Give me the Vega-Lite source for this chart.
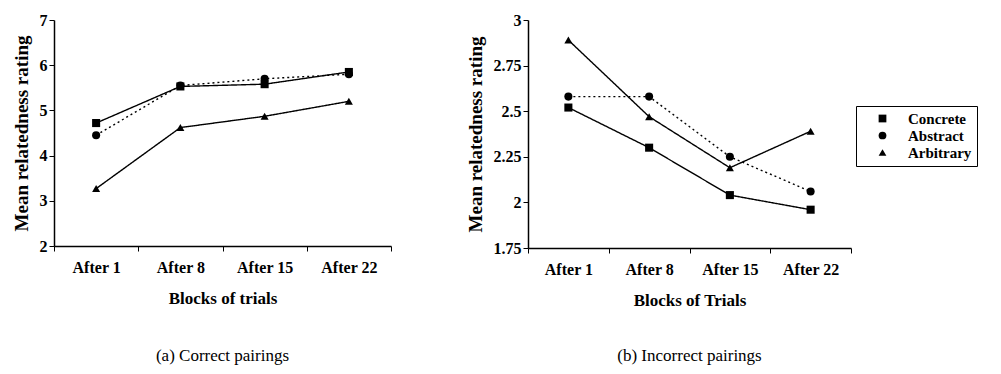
{
  "$schema": "https://vega.github.io/schema/vega-lite/v6.json",
  "background": "white",
  "padding": {"left": 12, "top": 12, "right": 5, "bottom": 5},
  "spacing": 74,
  "datasets": {
    "pts": [
      {"panel": "a", "block": "After 1", "series": "Concrete", "value": 4.72},
      {"panel": "a", "block": "After 8", "series": "Concrete", "value": 5.53},
      {"panel": "a", "block": "After 15", "series": "Concrete", "value": 5.58},
      {"panel": "a", "block": "After 22", "series": "Concrete", "value": 5.85},
      {"panel": "a", "block": "After 1", "series": "Abstract", "value": 4.45},
      {"panel": "a", "block": "After 8", "series": "Abstract", "value": 5.55},
      {"panel": "a", "block": "After 15", "series": "Abstract", "value": 5.70},
      {"panel": "a", "block": "After 22", "series": "Abstract", "value": 5.80},
      {"panel": "a", "block": "After 1", "series": "Arbitrary", "value": 3.27},
      {"panel": "a", "block": "After 8", "series": "Arbitrary", "value": 4.62},
      {"panel": "a", "block": "After 15", "series": "Arbitrary", "value": 4.87},
      {"panel": "a", "block": "After 22", "series": "Arbitrary", "value": 5.20},
      {"panel": "b", "block": "After 1", "series": "Concrete", "value": 2.52},
      {"panel": "b", "block": "After 8", "series": "Concrete", "value": 2.30},
      {"panel": "b", "block": "After 15", "series": "Concrete", "value": 2.04},
      {"panel": "b", "block": "After 22", "series": "Concrete", "value": 1.96},
      {"panel": "b", "block": "After 1", "series": "Abstract", "value": 2.58},
      {"panel": "b", "block": "After 8", "series": "Abstract", "value": 2.58},
      {"panel": "b", "block": "After 15", "series": "Abstract", "value": 2.25},
      {"panel": "b", "block": "After 22", "series": "Abstract", "value": 2.06},
      {"panel": "b", "block": "After 1", "series": "Arbitrary", "value": 2.89},
      {"panel": "b", "block": "After 8", "series": "Arbitrary", "value": 2.47},
      {"panel": "b", "block": "After 15", "series": "Arbitrary", "value": 2.19},
      {"panel": "b", "block": "After 22", "series": "Arbitrary", "value": 2.39}
    ]
  },
  "data": {"name": "pts"},
  "hconcat": [
    {
      "width": 337, "height": 226,
      "view": {"stroke": null},
      "title": {"text": "(a) Correct pairings", "orient": "bottom", "offset": 42, "font": "Liberation Serif, Times New Roman, serif", "fontWeight": "normal", "fontSize": 17, "color": "black"},
      "transform": [{"filter": "datum.panel === 'a'"}],
      "encoding": {
        "x": {"field": "block", "type": "nominal", "sort": ["After 1", "After 8", "After 15", "After 22"],
              "scale": {"paddingInner": 0, "paddingOuter": 0},
              "axis": {"title": "Blocks of trials", "labelAngle": 0, "tickBand": "extent", "labelPadding": 8, "titlePadding": 15, "tickSize": 5, "grid": false,
                       "labelFont": "Liberation Serif, Times New Roman, serif", "labelFontWeight": "bold", "labelFontSize": 16, "labelColor": "black",
                       "titleFont": "Liberation Serif, Times New Roman, serif", "titleFontWeight": "bold", "titleFontSize": 17, "titleColor": "black",
                       "domainColor": "black", "tickColor": "black", "domainWidth": 1.5}},
        "y": {"field": "value", "type": "quantitative", "scale": {"domain": [2, 7], "nice": false},
              "axis": {"title": "Mean relatedness rating", "values": [2, 3, 4, 5, 6, 7], "tickSize": 5, "titlePadding": 8, "grid": false,
                       "labelFont": "Liberation Serif, Times New Roman, serif", "labelFontWeight": "bold", "labelFontSize": 16, "labelColor": "black",
                       "titleFont": "Liberation Serif, Times New Roman, serif", "titleFontWeight": "bold", "titleFontSize": 19, "titleColor": "black",
                       "domainColor": "black", "tickColor": "black", "domainWidth": 1.5}}
      },
      "layer": [
        {"mark": {"type": "line", "color": "black", "strokeWidth": 1.4},
         "encoding": {"strokeDash": {"field": "series", "type": "nominal",
            "scale": {"domain": ["Concrete", "Abstract", "Arbitrary"], "range": [[1, 0], [2, 3], [1, 0]]}, "legend": null}}},
        {"mark": {"type": "point", "filled": true, "color": "black", "opacity": 1, "size": 65},
         "encoding": {"shape": {"field": "series", "type": "nominal",
            "scale": {"domain": ["Concrete", "Abstract", "Arbitrary"], "range": ["square", "circle", "triangle-up"]}, "legend": null}}}
      ]
    },
    {
      "width": 323, "height": 228,
      "view": {"stroke": null},
      "title": {"text": "(b) Incorrect pairings", "orient": "bottom", "offset": 40, "font": "Liberation Serif, Times New Roman, serif", "fontWeight": "normal", "fontSize": 17, "color": "black"},
      "transform": [{"filter": "datum.panel === 'b'"}],
      "encoding": {
        "x": {"field": "block", "type": "nominal", "sort": ["After 1", "After 8", "After 15", "After 22"],
              "scale": {"paddingInner": 0, "paddingOuter": 0},
              "axis": {"title": "Blocks of Trials", "labelAngle": 0, "tickBand": "extent", "labelPadding": 8, "titlePadding": 15, "tickSize": 5, "grid": false,
                       "labelFont": "Liberation Serif, Times New Roman, serif", "labelFontWeight": "bold", "labelFontSize": 16, "labelColor": "black",
                       "titleFont": "Liberation Serif, Times New Roman, serif", "titleFontWeight": "bold", "titleFontSize": 17, "titleColor": "black",
                       "domainColor": "black", "tickColor": "black", "domainWidth": 1.5}},
        "y": {"field": "value", "type": "quantitative", "scale": {"domain": [1.75, 3], "nice": false},
              "axis": {"title": "Mean relatedness rating", "values": [1.75, 2, 2.25, 2.5, 2.75, 3], "labelExpr": "'' + datum.value", "tickSize": 5, "titlePadding": 8, "grid": false,
                       "labelFont": "Liberation Serif, Times New Roman, serif", "labelFontWeight": "bold", "labelFontSize": 16, "labelColor": "black",
                       "titleFont": "Liberation Serif, Times New Roman, serif", "titleFontWeight": "bold", "titleFontSize": 19, "titleColor": "black",
                       "domainColor": "black", "tickColor": "black", "domainWidth": 1.5}}
      },
      "layer": [
        {"mark": {"type": "line", "color": "black", "strokeWidth": 1.4},
         "encoding": {"strokeDash": {"field": "series", "type": "nominal",
            "scale": {"domain": ["Concrete", "Abstract", "Arbitrary"], "range": [[1, 0], [2, 3], [1, 0]]},
            "legend": {"title": null, "orient": "none", "legendX": 328, "legendY": 86, "strokeColor": "black", "padding": 5,
                       "symbolFillColor": "black", "symbolStrokeColor": "black", "symbolSize": 60, "symbolStrokeWidth": 1,
                       "symbolOffset": 14, "rowPadding": 1, "labelOffset": 18,
                       "labelFont": "Liberation Serif, Times New Roman, serif", "labelFontWeight": "bold", "labelFontSize": 15, "labelColor": "black"}}}},
        {"mark": {"type": "point", "filled": true, "color": "black", "opacity": 1, "size": 65},
         "encoding": {"shape": {"field": "series", "type": "nominal",
            "scale": {"domain": ["Concrete", "Abstract", "Arbitrary"], "range": ["square", "circle", "triangle-up"]},
            "legend": {"title": null}}}}
      ]
    }
  ],
  "resolve": {"scale": {"y": "independent", "shape": "independent", "strokeDash": "independent"}}
}
